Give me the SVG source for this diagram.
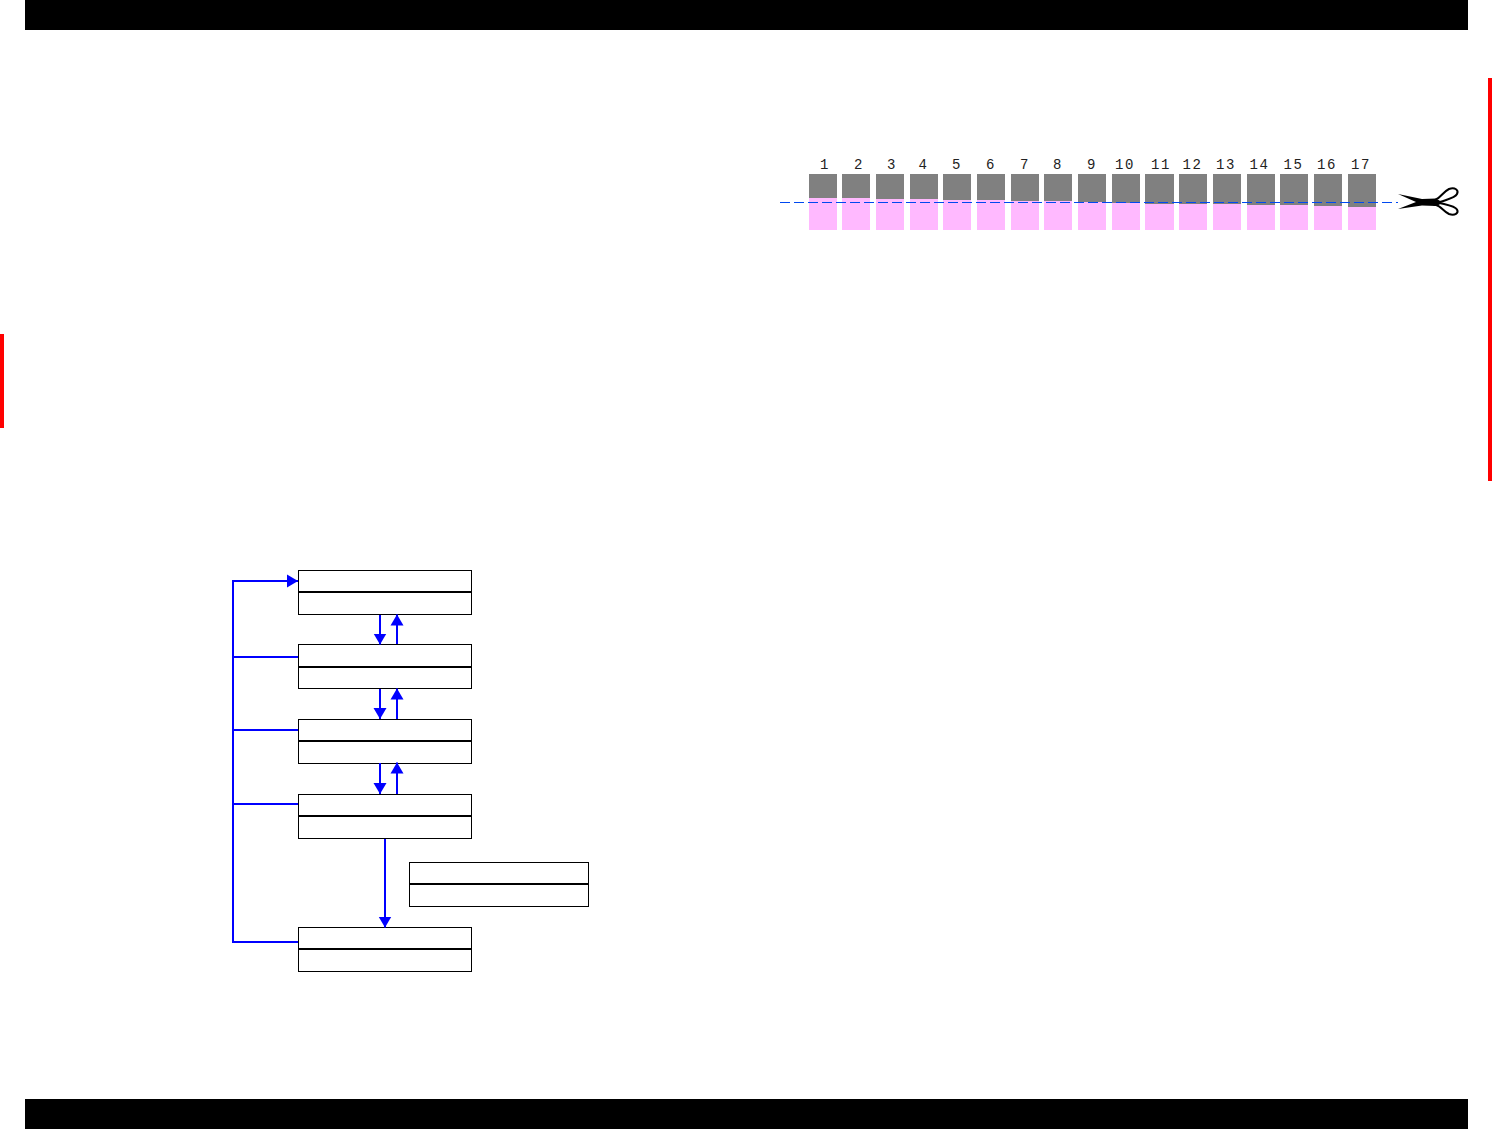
<svg xmlns="http://www.w3.org/2000/svg" width="1492" height="1129" viewBox="0 0 1492 1129">
<style>
.bar{fill:#000}.red{fill:#f00}
.box{fill:#fff;stroke:#000;stroke-width:1}
.div{stroke:#000;stroke-width:2;fill:none}
.c{stroke:#00f;stroke-width:2;fill:none}
.g{fill:#808080}.p{fill:#ffb9ff}
.n{font-family:"Liberation Mono",monospace;font-size:14px;letter-spacing:1.500px;text-anchor:middle;fill:#222}
</style>
<defs>
<marker id="ah" markerUnits="userSpaceOnUse" markerWidth="12" markerHeight="14" refX="11" refY="7" orient="auto"><path d="M0 .5L11 7L0 13.500Z" fill="#00f"/></marker>
</defs>
<rect class="bar" x="25" y="0" width="1443" height="30"/>
<rect class="bar" x="25" y="1099" width="1443" height="30"/>
<rect class="red" x="1488" y="78" width="4" height="403"/>
<rect class="red" x="0" y="334" width="4" height="94"/>
<g id="strips">
<g id="s1"><rect class="p" x="809" y="174" width="28" height="56"/><rect class="g" x="809" y="174" width="28" height="24"/><text class="n" x="825" y="168.500">1</text></g>
<g id="s2"><rect class="p" x="842" y="174" width="28" height="56"/><rect class="g" x="842" y="174" width="28" height="24"/><text class="n" x="859" y="168.500">2</text></g>
<g id="s3"><rect class="p" x="876" y="174" width="28" height="56"/><rect class="g" x="876" y="174" width="28" height="25"/><text class="n" x="892" y="168.500">3</text></g>
<g id="s4"><rect class="p" x="910" y="174" width="28" height="56"/><rect class="g" x="910" y="174" width="28" height="25"/><text class="n" x="923.500" y="168.500">4</text></g>
<g id="s5"><rect class="p" x="943" y="174" width="28" height="56"/><rect class="g" x="943" y="174" width="28" height="26"/><text class="n" x="957" y="168.500">5</text></g>
<g id="s6"><rect class="p" x="977" y="174" width="28" height="56"/><rect class="g" x="977" y="174" width="28" height="26"/><text class="n" x="991" y="168.500">6</text></g>
<g id="s7"><rect class="p" x="1011" y="174" width="28" height="56"/><rect class="g" x="1011" y="174" width="28" height="27"/><text class="n" x="1025" y="168.500">7</text></g>
<g id="s8"><rect class="p" x="1044" y="174" width="28" height="56"/><rect class="g" x="1044" y="174" width="28" height="27"/><text class="n" x="1058" y="168.500">8</text></g>
<g id="s9"><rect class="p" x="1078" y="174" width="28" height="56"/><rect class="g" x="1078" y="174" width="28" height="28"/><text class="n" x="1092" y="168.500">9</text></g>
<g id="s10"><rect class="p" x="1112" y="174" width="28" height="56"/><rect class="g" x="1112" y="174" width="28" height="29"/><text class="n" x="1125" y="168.500">10</text></g>
<g id="s11"><rect class="p" x="1145" y="174" width="29" height="56"/><rect class="g" x="1145" y="174" width="29" height="30"/><text class="n" x="1161" y="168.500">11</text></g>
<g id="s12"><rect class="p" x="1179" y="174" width="28" height="56"/><rect class="g" x="1179" y="174" width="28" height="30"/><text class="n" x="1192.500" y="168.500">12</text></g>
<g id="s13"><rect class="p" x="1213" y="174" width="28" height="56"/><rect class="g" x="1213" y="174" width="28" height="30"/><text class="n" x="1226" y="168.500">13</text></g>
<g id="s14"><rect class="p" x="1247" y="174" width="28" height="56"/><rect class="g" x="1247" y="174" width="28" height="31"/><text class="n" x="1259.500" y="168.500">14</text></g>
<g id="s15"><rect class="p" x="1280" y="174" width="28" height="56"/><rect class="g" x="1280" y="174" width="28" height="31"/><text class="n" x="1293.500" y="168.500">15</text></g>
<g id="s16"><rect class="p" x="1314" y="174" width="28" height="56"/><rect class="g" x="1314" y="174" width="28" height="32"/><text class="n" x="1327" y="168.500">16</text></g>
<g id="s17"><rect class="p" x="1348" y="174" width="28" height="56"/><rect class="g" x="1348" y="174" width="28" height="33"/><text class="n" x="1361" y="168.500">17</text></g>
</g>
<path id="cut" d="M780 202.500H1398" stroke="#0048f0" stroke-width="1.200" stroke-dasharray="10 4" fill="none"/>
<g id="scissors">
<path d="M1398 194L1422 199L1436 198.500L1441 201L1441 204L1436 206L1422 205.500L1398 209L1416 202Z" fill="#000"/>
<path d="M1436 199.500C1441 197 1443 192 1449 189C1455 187 1459 190 1457 194C1455 198 1448 199 1440 202Z" fill="#fff" stroke="#000" stroke-width="2"/>
<path d="M1436 205C1441 206 1443 211 1449 214C1455 216 1459 213 1457 209.500C1455 206 1448 205 1440 203Z" fill="#fff" stroke="#000" stroke-width="2"/>
</g>
<g id="n1"><rect class="box" x="298.500" y="570.500" width="173" height="44"/><path class="div" d="M298 592H472"/></g>
<g id="n2"><rect class="box" x="298.500" y="644.500" width="173" height="44"/><path class="div" d="M298 667H472"/></g>
<g id="n3"><rect class="box" x="298.500" y="719.500" width="173" height="44"/><path class="div" d="M298 741H472"/></g>
<g id="n4"><rect class="box" x="298.500" y="794.500" width="173" height="44"/><path class="div" d="M298 816H472"/></g>
<g id="n5"><rect class="box" x="298.500" y="927.500" width="173" height="44"/><path class="div" d="M298 949H472"/></g>
<g id="n6"><rect class="box" x="409.500" y="862.500" width="179" height="44"/><path class="div" d="M409 884H589"/></g>
<g id="connectors">
<path class="c" d="M298 942H233V581H298" marker-end="url(#ah)"/>
<path class="c" d="M233 657H298"/>
<path class="c" d="M233 730H298"/>
<path class="c" d="M233 804H298"/>
<path class="c" d="M380 615V644.500" marker-end="url(#ah)"/>
<path class="c" d="M397 644V614.500" marker-end="url(#ah)"/>
<path class="c" d="M380 689V719" marker-end="url(#ah)"/>
<path class="c" d="M397 719V688.500" marker-end="url(#ah)"/>
<path class="c" d="M380 763V794" marker-end="url(#ah)"/>
<path class="c" d="M397 794V762.500" marker-end="url(#ah)"/>
<path class="c" d="M385 839V927.500" marker-end="url(#ah)"/>
</g>
</svg>
